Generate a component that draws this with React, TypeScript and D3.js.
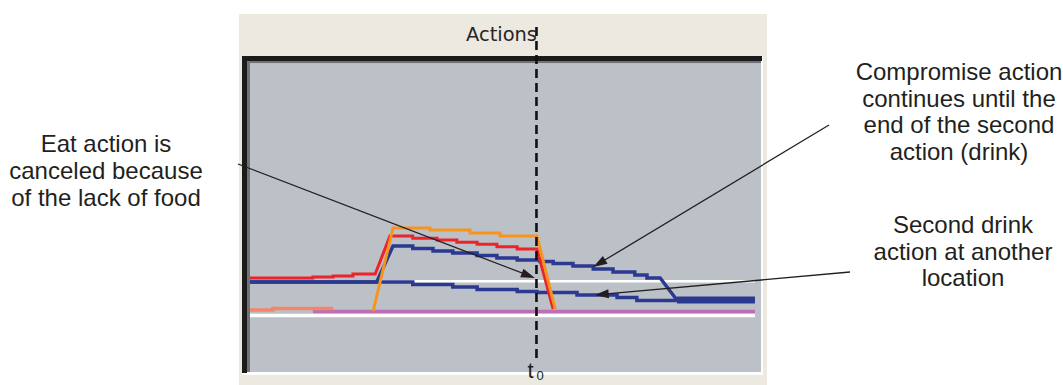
import React from "react";
import * as d3 from "d3";

type P = [number, number];

// ---- data (time 0..100, activation 0..1) ----
const title = "Actions";
const markerLabel = "t";
const markerSub = "0";
const markerTime = 56.6;

const thresholdHigh: P[] = [[0, 0.297], [99.6, 0.297]];
const thresholdLow: P[] = [[0, -0.045], [99.6, -0.045]];
const restAction: P[] = [[12.4, -0.005], [99.6, -0.005]];
const eatEarly: P[] = [[0, 0.01], [4.5, 0.01], [4.5, 0.025], [16.4, 0.025]];
const eatAction: P[] = [
  [24.3, 0.0], [28.2, 0.83], [35.5, 0.83], [35.5, 0.81], [43.4, 0.81], [43.4, 0.78],
  [49.3, 0.78], [49.3, 0.75], [56.6, 0.75], [60.2, 0.02],
];
const drinkAction: P[] = [
  [0, 0.33], [12.4, 0.33], [12.4, 0.34], [16.4, 0.34], [16.4, 0.35], [20.3, 0.35],
  [20.3, 0.37], [24.7, 0.37], [27.6, 0.75], [32.1, 0.75], [32.1, 0.727], [36.9, 0.727],
  [36.9, 0.71], [40.8, 0.71], [40.8, 0.687], [44.8, 0.687], [44.8, 0.667], [48.7, 0.667],
  [48.7, 0.643], [52.7, 0.643], [52.7, 0.62], [56.6, 0.62], [59.8, 0.02],
];
const compromiseAction: P[] = [
  [0, 0.29], [25.0, 0.29], [28.2, 0.65], [32.1, 0.65], [32.1, 0.625], [36.1, 0.625],
  [36.1, 0.6], [40.0, 0.6], [40.0, 0.58], [44.8, 0.58], [44.8, 0.555], [48.7, 0.555],
  [48.7, 0.53], [52.7, 0.53], [52.7, 0.51], [57.2, 0.51], [57.2, 0.495], [59.8, 0.495],
  [59.8, 0.475], [63.7, 0.475], [63.7, 0.45], [67.7, 0.45], [67.7, 0.42], [71.6, 0.42],
  [71.6, 0.39], [75.9, 0.39], [75.9, 0.36], [78.3, 0.36], [78.3, 0.33], [80.9, 0.33],
  [84.2, 0.11],
];
const secondDrink: P[] = [
  [0, 0.29], [32.1, 0.29], [32.1, 0.265], [40.0, 0.265], [40.0, 0.24], [44.8, 0.24],
  [44.8, 0.215], [52.7, 0.215], [52.7, 0.195], [56.6, 0.195], [56.6, 0.185], [64.5, 0.185],
  [64.5, 0.16], [72.4, 0.16], [72.4, 0.135], [76.3, 0.135], [76.3, 0.105], [84.2, 0.105],
];
const drinkTail: P[] = [[84.2, 0.11], [99.6, 0.11]];

const noteLeft = ["Eat action is", "canceled because", "of the lack of food"];
const noteCompromise = ["Compromise action", "continues until the", "end of the second", "action (drink)"];
const noteSecond = ["Second drink", "action at another", "location"];

// arrow tips in data coordinates
const tipEat: P = [56.2, 0.33];
const tipCompromise: P = [67.7, 0.44];
const tipSecond: P = [68.0, 0.16];

const W = 1063;
const H = 385;

export default function App() {
  const x = d3.scaleLinear().domain([0, 100]).range([250, 757]);
  const y = d3.scaleLinear().domain([0, 1]).range([311, 211]);
  const line = d3.line<P>().x((d) => x(d[0])).y((d) => y(d[1]));

  const arrow = (x0: number, y0: number, tip: P) => {
    const x1 = x(tip[0]);
    const y1 = y(tip[1]);
    const dx = x1 - x0;
    const dy = y1 - y0;
    const L = Math.hypot(dx, dy);
    const ux = dx / L;
    const uy = dy / L;
    const len = 14;
    const hw = 4.5;
    const bx = x1 - ux * len;
    const by = y1 - uy * len;
    const pts = [
      [x1, y1],
      [bx - uy * hw, by + ux * hw],
      [bx + uy * hw, by - ux * hw],
    ];
    return (
      <g>
        <line x1={x0} y1={y0} x2={bx + ux * 2} y2={by + uy * 2} stroke="#231f20" strokeWidth={1.3} />
        <polygon points={pts.map((p) => p.join(",")).join(" ")} fill="#231f20" />
      </g>
    );
  };

  const txt = { fontFamily: "'Liberation Sans', Arial, sans-serif", fontSize: 24, fill: "#231f20" } as const;

  return (
    <svg width={W} height={H} style={{ position: "absolute", left: 0, top: 0, background: "#fff" }}>
      {/* panel */}
      <rect x={239} y={14} width={528} height={371} fill="#ece9e1" />
      <rect x={242} y={56} width={521} height={319} fill="#ffffff" />
      <rect x={242} y={56} width={520} height={5} fill="#1b1b1b" />
      <rect x={242} y={56} width={5} height={317} fill="#1b1b1b" />
      <rect x={247} y={61} width={514} height={2.5} fill="#6f7378" />
      <rect x={247} y={61} width={3} height={311} fill="#6f7378" />
      <rect x={250} y={63.5} width={511} height={308.5} fill="#bcc1c8" />
      <text x={466} y={41} textLength={71} lengthAdjust="spacingAndGlyphs" fontFamily="'DejaVu Sans', Verdana, sans-serif" fontSize={19.5} fill="#262626">
        {title}
      </text>

      {/* series */}
      <path d={line(thresholdHigh)!} fill="none" stroke="#ffffff" strokeWidth={2.5} />
      <path d={line(thresholdLow)!} fill="none" stroke="#ffffff" strokeWidth={3.5} />
      <path d={line(restAction)!} fill="none" stroke="#bd6fb5" strokeWidth={3.5} />
      <path d={line(secondDrink)!} fill="none" stroke="#2b3990" strokeWidth={3.5} />
      <path d={line(compromiseAction)!} fill="none" stroke="#2b3990" strokeWidth={3.5} />
      <path d={line(drinkTail)!} fill="none" stroke="#2b3990" strokeWidth={7} />
      <path d={line(drinkAction)!} fill="none" stroke="#ec2329" strokeWidth={3} />
      <path d={line(eatEarly)!} fill="none" stroke="#f3866a" strokeWidth={3.5} />
      <path d={line(eatAction)!} fill="none" stroke="#f7941d" strokeWidth={3} />

      {/* t0 marker */}
      <line x1={x(markerTime) - 0.5} x2={x(markerTime) - 0.5} y1={27} y2={362} stroke="#111" strokeWidth={2.6} strokeDasharray="9 5" />
      <text x={x(markerTime) - 9.5} y={378} {...txt} fontSize={22}>{markerLabel}</text>
      <text x={x(markerTime) - 0.5} y={380} {...txt} fontSize={13}>{markerSub}</text>

      {/* annotations */}
      {noteLeft.map((s, i) => (
        <text key={s} x={106} y={152 + i * 27} textAnchor="middle" {...txt}>{s}</text>
      ))}
      {noteCompromise.map((s, i) => (
        <text key={s} x={959} y={80 + i * 26.5} textAnchor="middle" {...txt}>{s}</text>
      ))}
      {noteSecond.map((s, i) => (
        <text key={s} x={963} y={233 + i * 26.5} textAnchor="middle" {...txt}>{s}</text>
      ))}
      {arrow(238, 164, tipEat)}
      {arrow(829, 125, tipCompromise)}
      {arrow(850, 272, tipSecond)}
    </svg>
  );
}
